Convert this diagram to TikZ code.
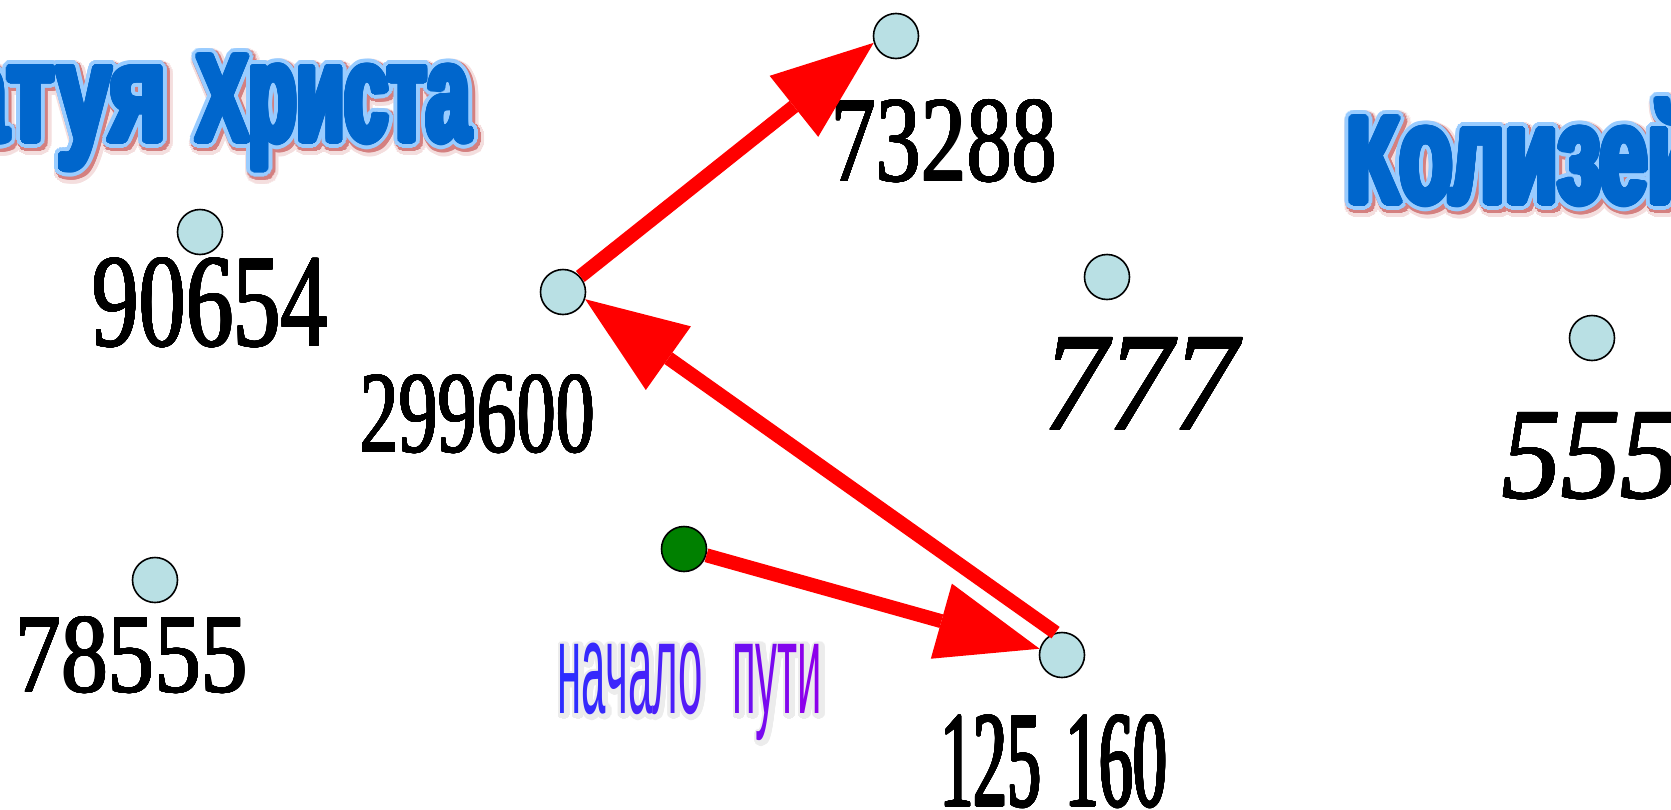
\documentclass[tikz,border=0pt]{standalone}
\usepackage{fontspec}
\usepackage{graphicx}
\usepackage{contour}
\setmainfont{Liberation Serif}
\newfontfamily\ttl{Liberation Sans}[UprightFont={* Bold}]
\newfontfamily\nach{Liberation Sans}
\usetikzlibrary{arrows.meta}
\definecolor{cdot}{RGB}{185,224,228}
\definecolor{cgreen}{RGB}{0,128,0}
\definecolor{tblue}{RGB}{0,102,204}
\definecolor{tlight}{RGB}{153,204,255}
\definecolor{tshA}{RGB}{244,222,222}
\definecolor{tshB}{RGB}{212,128,128}
\definecolor{nS}{RGB}{45,45,255}
\definecolor{nE}{RGB}{140,0,235}
\definecolor{nglow}{RGB}{236,236,236}
\contournumber{32}
\newcommand\cp[1]{\scalebox{1}[0.89]{#1}}
\newcommand\ttlbox[2]{\scalebox{#1}[1]{\fontsize{138pt}{140pt}\ttl #2}}
\newcommand\nachbox[1]{\scalebox{0.334}[1]{\fontsize{131pt}{131pt}\nach #1}}
\newcommand\numbox[4]{\contourlength{#4}\contour{black}{\resizebox{#1}{#2}{#3}}}
\newcommand\tword[4]{%
  \node[tnode,anchor=#3,xshift=3pt,yshift=-4pt,text=tshA] at (#2) {\contourlength{11pt}\contour{tshA}{#4}};
  \node[tnode,anchor=#3,xshift=2pt,yshift=-2.5pt,text=tshB] at (#2) {\contourlength{8.5pt}\contour{tshB}{#4}};
  \node[tnode,anchor=#3,text=tlight] at (#2) {\contourlength{7.5pt}\contour{tlight}{#4}};
  \node[tnode,anchor=#3,text=tblue] (#1) at (#2) {\contourlength{3.5pt}\contour{tblue}{#4}};
}
\begin{document}
\begin{tikzpicture}[x=1pt,y=-1pt,
  dot/.style={circle,draw=black,line width=1.6pt,fill=cdot,minimum size=45pt,inner sep=0pt},
  startdot/.style={dot,fill=cgreen},
  arr/.style={draw=red,line width=14pt,-{Triangle[length=102pt,width=78pt,line width=0pt 0]}},
  num/.style={inner sep=0pt,outer sep=0pt,anchor=north west,text=black},
  tnode/.style={inner sep=0pt,outer sep=0pt}]
\useasboundingbox (0,0) rectangle (1671,809);
\begin{scope}
\clip (0,0) rectangle (1671,809);
% titles
\tword{title1a}{166,140.5}{base east}{\ttlbox{0.70}{\cp{С}татуя}}
\tword{title1b}{470,140.5}{base east}{\ttlbox{0.567}{\cp{Х}риста}}
\tword{title2}{1347,202.5}{base west}{\ttlbox{0.625}{\cp{К}олизей}}
% numbers
\node[num] (n73288) at (831,100) {\numbox{226pt}{81pt}{73288}{0.6pt}};
\node[num] (n90654) at (92,258) {\numbox{236pt}{88pt}{90654}{0.7pt}};
\node[num] (n299600) at (360,375) {\numbox{235pt}{77pt}{299600}{0.6pt}};
\node[num] (n777) at (1043,338) {\numbox{195pt}{92pt}{\itshape 777}{0.7pt}};
\node[num] (n555) at (1502,413) {\numbox{178pt}{85pt}{\itshape 555}{0.7pt}};
\node[num] (n78555) at (15,617) {\numbox{233pt}{75pt}{78555}{0.6pt}};
\node[num] (n125160) at (940,715) {\numbox{227pt}{91pt}{125\kern0.36em 160}{1.0pt}};
% start label
\node[tnode,anchor=base west,xshift=2pt,yshift=-2pt,text=nglow] at (557,713) {\contourlength{4pt}\contour{nglow}{\nachbox{начало}}};
\node[tnode,anchor=base west,xshift=2pt,yshift=-2pt,text=nglow] at (732,713) {\contourlength{4pt}\contour{nglow}{\nachbox{пути}}};
\node[tnode,anchor=base west] (lab1) at (557,713) {\nachbox{\textcolor{nE!0!nS}{н}\textcolor{nE!8!nS}{а}\textcolor{nE!16!nS}{ч}\textcolor{nE!24!nS}{а}\textcolor{nE!32!nS}{л}\textcolor{nE!40!nS}{о}}};
\node[tnode,anchor=base west] (lab2) at (732,713) {\nachbox{\textcolor{nE!70!nS}{п}\textcolor{nE!80!nS}{у}\textcolor{nE!90!nS}{т}\textcolor{nE!100!nS}{и}}};
% circles
\node[dot] (c1) at (896,36) {};
\node[dot] (c2) at (563,292) {};
\node[dot] (c3) at (200,232) {};
\node[dot] (c4) at (1107,277) {};
\node[dot] (c6) at (1592,338) {};
\node[dot] (c7) at (155,580) {};
\node[dot] (c5) at (1062,655) {};
\node[startdot] (g) at (684,549) {};
% arrows
\draw[arr] (g) -- (c5);
\draw[arr] (c5.106) -- (c2.-18);
\draw[arr] (c2.42) -- (c1.197);
\end{scope}
\end{tikzpicture}
\end{document}
